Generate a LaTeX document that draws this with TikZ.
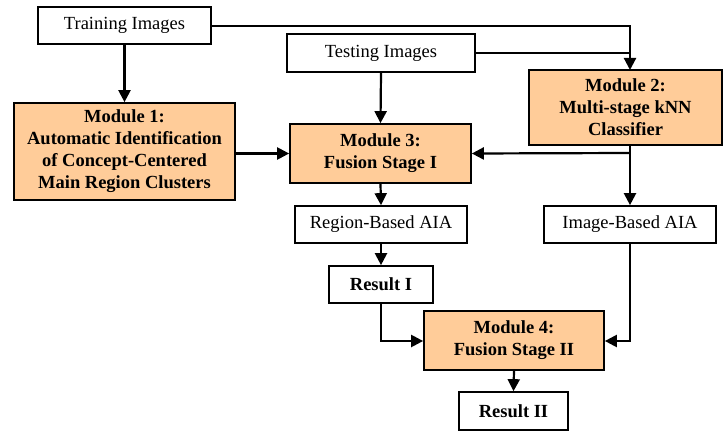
\documentclass[tikz,border=0pt]{standalone}
\usepackage{fontspec}
\setmainfont{Liberation Serif}
\usetikzlibrary{arrows.meta}
\definecolor{peach}{HTML}{FFCC99}
\begin{document}
\begin{tikzpicture}[x=1pt,y=-1pt,
  plainbox/.style={draw=black,line width=1.7pt,fill=white,inner sep=0pt,align=center,font=\fontsize{18.5}{22}\selectfont},
  resbox/.style={plainbox,font=\fontsize{18.5}{22}\selectfont\bfseries},
  modbox/.style={draw=black,line width=1.7pt,fill=peach,inner sep=0pt,align=center,font=\fontsize{18.5}{22}\selectfont\bfseries},
  conn/.style={line width=2.2pt,-{Triangle[length=12pt,width=12pt]}},
  link/.style={line width=2.2pt}]
\useasboundingbox (0,0) rectangle (723,433);
\node[plainbox,minimum width=173pt,minimum height=37pt] (train) at (124.5,25.5) {Training Images};
\node[plainbox,minimum width=188pt,minimum height=38pt] (test) at (381,53) {Testing Images};
\node[modbox,minimum width=221pt,minimum height=97pt] (m1) at (124.5,151.5) {Module 1:\\Automatic Identification\\of Concept-Centered\\Main Region Clusters};
\node[modbox,minimum width=181pt,minimum height=59pt] (m3) at (380.5,153.5) {Module 3:\\Fusion Stage I};
\node[modbox,minimum width=193pt,minimum height=75pt] (m2) at (625.5,107.5) {Module 2:\\Multi-stage kNN\\Classifier};
\node[plainbox,minimum width=172pt,minimum height=37pt] (raia) at (381,224.5) {Region-Based AIA};
\node[plainbox,minimum width=172pt,minimum height=37pt] (iaia) at (630,224.5) {Image-Based AIA};
\node[resbox,minimum width=104pt,minimum height=37pt] (r1) at (381,284.5) {Result I};
\node[modbox,minimum width=180pt,minimum height=59pt] (m4) at (514,340.5) {Module 4:\\Fusion Stage II};
\node[resbox,minimum width=109pt,minimum height=38pt] (r2) at (513.5,411) {Result II};
% connectors
\coordinate (jtr) at (630,26);
\coordinate (jte) at (630,53);
\coordinate (m2top) at (630,70);
\coordinate (m2bot) at (630,145);
\coordinate (jm2) at (630,153);
\coordinate (jr1) at (381,341);
\coordinate (jia) at (630,341);
\draw[conn] (train.south) -- (m1.north);
\draw[conn] (train.east |- jtr) -- (jtr) -- (m2top);
\draw[link] (test.east |- jte) -- (jte);
\draw[conn] (test.south) -- (m3.north);
\draw[conn] (m1.east |- m3.west) -- (m3.west);
\draw[conn] (jm2) -- (m3.east);
\draw[conn] (m2bot) -- (iaia.north);
\draw[conn] (m3.south) -- (raia.north);
\draw[conn] (raia.south) -- (r1.north);
\draw[conn] (r1.south) -- (jr1) -- (m4.west |- jr1);
\draw[conn] (iaia.south) -- (jia) -- (m4.east |- jia);
\draw[conn] (m4.south) -- (r2.north);
\end{tikzpicture}
\end{document}
